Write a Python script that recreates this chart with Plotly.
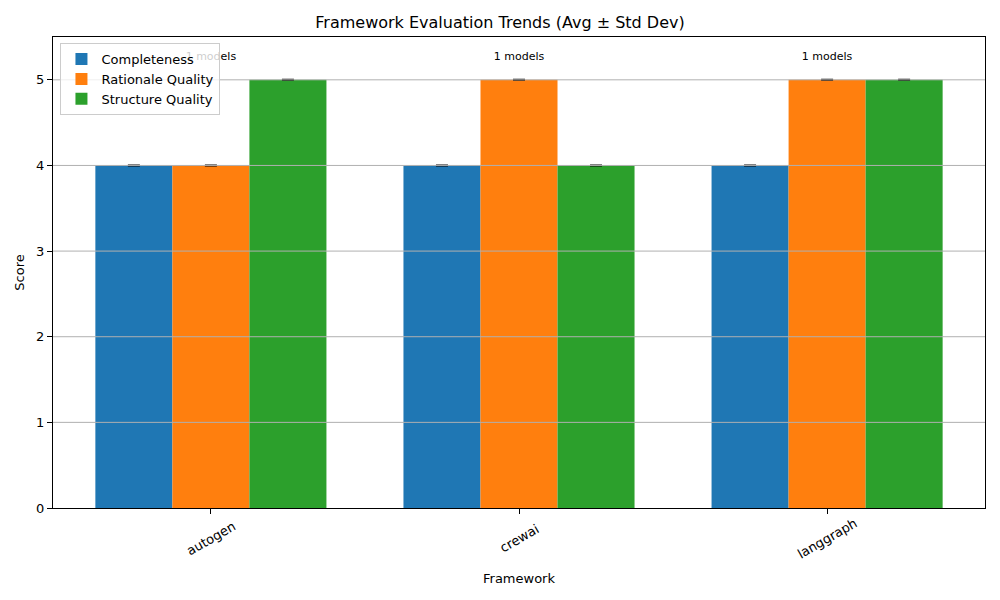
import plotly.graph_objects as go

frameworks = ["autogen", "crewai", "langgraph"]
metrics = ["Completeness", "Rationale Quality", "Structure Quality"]
means = {
    "Completeness": [4, 4, 4],
    "Rationale Quality": [4, 5, 5],
    "Structure Quality": [5, 4, 5],
}
stds = {
    "Completeness": [0, 0, 0],
    "Rationale Quality": [0, 0, 0],
    "Structure Quality": [0, 0, 0],
}
model_counts = [1, 1, 1]
colors = ["#1f77b4", "#ff7f0e", "#2ca02c"]
yticks = [0, 1, 2, 3, 4, 5]

x = list(range(len(frameworks)))
width = 0.25
fig = go.Figure()
for i, m in enumerate(metrics):
    offs = (i - 1) * width
    fig.add_trace(go.Bar(
        x=[v + offs for v in x], y=means[m], name=m, width=width,
        marker=dict(color=colors[i], line=dict(width=0)),
        error_y=dict(type="data", array=stds[m], visible=True, color="black", thickness=2, width=6),
    ))

# "N models" labels as a text trace (drawn beneath the legend, like the reference)
label_y = [max(means[m][xi] for m in metrics) + 0.2 for xi in x]
fig.add_trace(go.Scatter(
    x=x, y=label_y, mode="text", text=[f"{n} models" for n in model_counts],
    textposition="top center", textfont=dict(size=11, color="black"),
    showlegend=False, hoverinfo="skip",
))

# gridlines drawn above bars (as in reference)
for t in yticks[1:]:
    fig.add_shape(type="line", xref="paper", x0=0, x1=1, yref="y", y0=t, y1=t,
                  line=dict(color="#b0b0b0", width=1), layer="above")

# rotated tick labels centred on ticks (matplotlib style)
for xi, name in zip(x, frameworks):
    fig.add_annotation(x=xi, xref="x", y=0, yref="paper", text=name, showarrow=False,
                       textangle=-30, xanchor="center", yanchor="middle", yshift=-30,
                       font=dict(size=13, color="black"))

fig.update_layout(
    width=1000, height=600,
    margin=dict(l=53, r=15, t=37, b=92),
    paper_bgcolor="white", plot_bgcolor="white",
    font=dict(family="DejaVu Sans", size=13, color="black"),
    title=dict(text="Framework Evaluation Trends (Avg ± Std Dev)", x=0.5, xanchor="center",
               y=1 - 22 / 600, yanchor="middle", font=dict(size=16)),
    barmode="overlay",
    showlegend=True,
    legend=dict(x=0.008, y=0.987, xanchor="left", yanchor="top", bgcolor="rgba(255,255,255,0.8)",
                bordercolor="#cccccc", borderwidth=1, font=dict(size=13), tracegroupgap=0),
    xaxis=dict(range=[-0.5125, 2.5125], tickmode="array", tickvals=x, ticktext=["", "", ""],
               showgrid=False, zeroline=False, showline=True, linecolor="black",
               linewidth=1, mirror=True, ticks="outside", ticklen=5, tickcolor="black",
               title=dict(text="Framework", font=dict(size=13), standoff=58)),
    yaxis=dict(range=[0, 5.5], tickmode="array", tickvals=yticks, showgrid=False, zeroline=False,
               showline=True, linecolor="black", linewidth=1, mirror=True, ticks="outside",
               ticklen=5, tickcolor="black",
               title=dict(text="Score", font=dict(size=13), standoff=8)),
)

fig.write_html("out.html")
